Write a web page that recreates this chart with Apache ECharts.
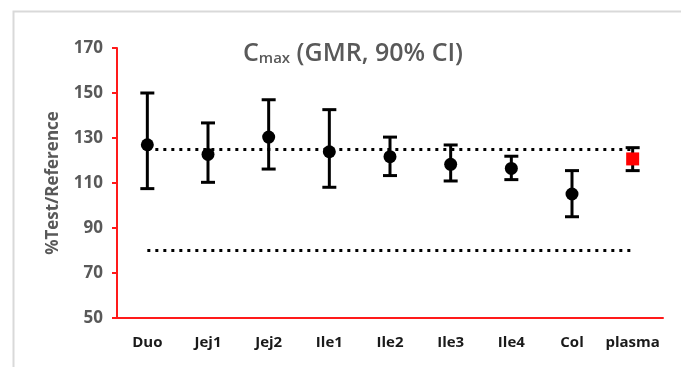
<!DOCTYPE html>
<html>
<head>
<meta charset="utf-8">
<script src="https://cdn.jsdelivr.net/npm/echarts@6/dist/echarts.min.js"></script>
<style>html,body{margin:0;padding:0;background:#fff}#c{width:681px;height:367px}</style>
</head>
<body>
<div id="c"></div>
<script>
var categories = ['Duo','Jej1','Jej2','Ile1','Ile2','Ile3','Ile4','Col','plasma'];
var gmr   = [127, 122.7, 130.4, 123.9, 121.7, 118.3, 116.5, 105.1, 120.7];
var lower = [107.5, 110.3, 116.2, 108.1, 113.3, 110.9, 111.5, 95, 115.5];
var upper = [150, 136.7, 147, 142.6, 130.4, 126.9, 121.9, 115.5, 125.7];
var limits = [125, 80];
var yTicks = [50, 70, 90, 110, 130, 150, 170];

var chart = echarts.init(document.getElementById('c'));
var RED = '#ff1a1a';
var GRAY = '#595959';
var FONT = 'Open Sans';

var errData = categories.map(function(c, i){ return [i, lower[i], upper[i]]; });
var ptData = categories.map(function(c, i){
  var isPlasma = c === 'plasma';
  return {
    value: [i, gmr[i]],
    symbol: isPlasma ? 'rect' : 'circle',
    symbolSize: 13,
    itemStyle: { color: isPlasma ? '#ff0000' : '#000', opacity: 1 }
  };
});

chart.setOption({
  animation: false,
  graphic: [{
    type: 'rect', left: 11, top: 9,
    shape: { width: 700, height: 400 },
    style: { fill: 'none', stroke: '#d9d9d9', lineWidth: 2 },
    z: -1
  }],
  title: {
    left: 238, top: 29,
    text: '{a|C}{b|max}{a| (GMR, 90% CI)}',
    textStyle: {
      rich: {
        a: { fontFamily: FONT, fontSize: 25, fontWeight: 600, color: GRAY, verticalAlign: 'bottom', lineHeight: 32 },
        b: { fontFamily: FONT, fontSize: 15, fontWeight: 600, color: GRAY, verticalAlign: 'bottom', lineHeight: 24 }
      }
    }
  },
  grid: { left: 117, right: 18, top: 48, bottom: 49 },
  xAxis: {
    type: 'category',
    data: categories,
    axisLine: { lineStyle: { color: RED, width: 2 } },
    axisTick: { alignWithLabel: true, length: 4, lineStyle: { color: RED, width: 2 } },
    axisLabel: { interval: 0, color: '#1a1a1a', fontFamily: FONT, fontWeight: 'bold', fontSize: 15, margin: 17 },
    splitLine: { show: false }
  },
  yAxis: {
    type: 'value',
    min: 50, max: 170, interval: 20,
    name: '%Test/Reference',
    nameLocation: 'middle',
    nameGap: 55,
    nameTextStyle: { color: GRAY, fontFamily: FONT, fontWeight: 'bold', fontSize: 17 },
    axisLine: { show: true, lineStyle: { color: RED, width: 2 } },
    axisTick: { show: true, length: 5, lineStyle: { color: RED, width: 2 } },
    axisLabel: {
      color: GRAY, fontFamily: FONT, fontWeight: 'bold', fontSize: 17, margin: 14,
      formatter: function(v){ return yTicks.indexOf(v) >= 0 ? String(v) : ''; }
    },
    splitLine: { show: false }
  },
  series: [
    {
      type: 'custom',
      data: errData,
      z: 3,
      renderItem: function(params, api){
        var x = api.value(0);
        var lo = api.coord([x, api.value(1)]);
        var hi = api.coord([x, api.value(2)]);
        var hw = 7;
        var st = { stroke: '#000', lineWidth: 3, fill: 'none' };
        return {
          type: 'group',
          children: [
            { type: 'line', shape: { x1: lo[0], y1: lo[1], x2: hi[0], y2: hi[1] }, style: st },
            { type: 'line', shape: { x1: lo[0]-hw, y1: lo[1], x2: lo[0]+hw, y2: lo[1] }, style: st },
            { type: 'line', shape: { x1: hi[0]-hw, y1: hi[1], x2: hi[0]+hw, y2: hi[1] }, style: st }
          ]
        };
      }
    },
    {
      type: 'scatter',
      data: ptData,
      z: 4,
      markLine: {
        silent: true,
        symbol: ['none', 'none'],
        label: { show: false },
        lineStyle: { color: '#000', width: 3, type: [3, 5] },
        data: limits.map(function(v){
          return [{ coord: [0, v] }, { coord: [8, v] }];
        })
      }
    }
  ]
});
</script>
</body>
</html>
